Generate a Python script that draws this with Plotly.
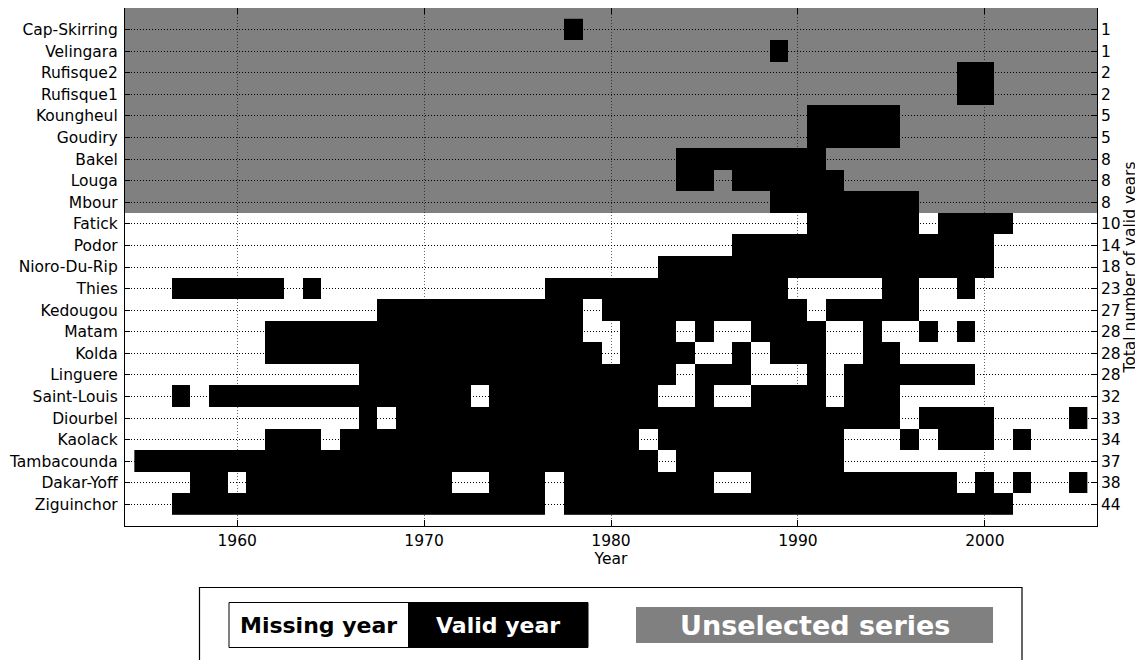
import plotly.graph_objects as go

# Stations, top to bottom as displayed
stations = ["Cap-Skirring", "Velingara", "Rufisque2", "Rufisque1", "Koungheul",
            "Goudiry", "Bakel", "Louga", "Mbour", "Fatick", "Podor", "Nioro-Du-Rip",
            "Thies", "Kedougou", "Matam", "Kolda", "Linguere", "Saint-Louis",
            "Diourbel", "Kaolack", "Tambacounda", "Dakar-Yoff", "Ziguinchor"]

# Number of top stations that are "unselected" (grey background)
n_unselected = 9

# Valid-year runs: [first_year, last_year] (inclusive)
valid_runs = {
    "Cap-Skirring": [[1978, 1978]],
    "Velingara": [[1989, 1989]],
    "Rufisque2": [[1999, 2000]],
    "Rufisque1": [[1999, 2000]],
    "Koungheul": [[1991, 1995]],
    "Goudiry": [[1991, 1995]],
    "Bakel": [[1984, 1991]],
    "Louga": [[1984, 1985], [1987, 1992]],
    "Mbour": [[1989, 1996]],
    "Fatick": [[1991, 1996], [1998, 2001]],
    "Podor": [[1987, 2000]],
    "Nioro-Du-Rip": [[1983, 2000]],
    "Thies": [[1957, 1962], [1964, 1964], [1977, 1989], [1995, 1996], [1999, 1999]],
    "Kedougou": [[1968, 1978], [1980, 1990], [1992, 1996]],
    "Matam": [[1962, 1978], [1981, 1983], [1985, 1985], [1988, 1991], [1994, 1994],
              [1997, 1997], [1999, 1999]],
    "Kolda": [[1962, 1979], [1981, 1984], [1987, 1987], [1989, 1991], [1994, 1995]],
    "Linguere": [[1967, 1983], [1985, 1987], [1991, 1991], [1993, 1999]],
    "Saint-Louis": [[1957, 1957], [1959, 1972], [1974, 1982], [1985, 1985],
                    [1988, 1991], [1993, 1995]],
    "Diourbel": [[1967, 1967], [1969, 1995], [1997, 2000], [2005, 2005]],
    "Kaolack": [[1962, 1964], [1966, 1981], [1983, 1992], [1996, 1996],
                [1998, 2000], [2002, 2002]],
    "Tambacounda": [[1955, 1982], [1984, 1992]],
    "Dakar-Yoff": [[1958, 1959], [1961, 1971], [1974, 1976], [1978, 1985],
                   [1988, 1998], [2000, 2000], [2002, 2002], [2005, 2005]],
    "Ziguinchor": [[1957, 1976], [1978, 2001]],
}

first_year = 1955
last_year = 2005
x_ticks = [1960, 1970, 1980, 1990, 2000]

# ---------------------------------------------------------------
years = list(range(first_year, last_year + 1))
rows = list(reversed(stations))           # bottom -> top
row_idx = list(range(len(rows)))

z = []
counts = []
for st in rows:
    valid = set()
    for a, b in valid_runs[st]:
        valid.update(range(a, b + 1))
    counts.append(len(valid))
    z.append([1 if y in valid else None for y in years])

FONT = "DejaVu Sans"
TXT = 15.5
DOT = "1px,2px"

fig = go.Figure()

fig.add_trace(go.Heatmap(
    x=years, y=row_idx, z=z,
    colorscale=[[0, "black"], [1, "black"]], zmin=0, zmax=1,
    showscale=False, hoverinfo="skip", zsmooth=False,
))

# invisible trace to activate right axis
fig.add_trace(go.Scatter(x=[years[0]], y=[0], yaxis="y2", mode="markers",
                         marker=dict(opacity=0), hoverinfo="skip", showlegend=False))

# page body adds an 8px offset; size the figure so it fills the window
OFF = 8
WIN_W, WIN_H = 1143, 660
W, H = WIN_W - OFF, WIN_H - OFF
# plot-area edges in window pixels
PL, PR, PT, PB = 125, 1097, 8, 526
L, R, T, B = PL - OFF, W - (PR - OFF), max(PT - OFF, 0), H - (PB - OFF)
pw, ph = W - L - R, H - T - B


def px(xw):
    return (xw - OFF - L) / pw


def py(yw):
    return (H - B - (yw - OFF)) / ph


shapes = [
    # grey band for unselected series
    dict(type="rect", xref="paper", yref="y", x0=0, x1=1,
         y0=len(rows) - n_unselected - 0.5, y1=len(rows),
         fillcolor="#808080", line=dict(width=0), layer="below"),
    # legend frame
    dict(type="rect", xref="paper", yref="paper", x0=px(199.5), x1=px(1022),
         y0=py(668), y1=py(587.5), fillcolor="white",
         line=dict(color="black", width=1.2)),
    dict(type="rect", xref="paper", yref="paper", x0=px(229), x1=px(408.5),
         y0=py(647.5), y1=py(602.5), fillcolor="white",
         line=dict(color="black", width=1)),
    dict(type="rect", xref="paper", yref="paper", x0=px(408.5), x1=px(588),
         y0=py(647.5), y1=py(602.5), fillcolor="black",
         line=dict(color="black", width=1)),
    dict(type="rect", xref="paper", yref="paper", x0=px(636), x1=px(993),
         y0=py(643), y1=py(607), fillcolor="#808080",
         line=dict(width=0)),
]

annotations = [
    dict(xref="paper", yref="paper", x=px(318.5), y=py(625), text="<b>Missing year</b>",
         showarrow=False, font=dict(family=FONT, size=22, color="black"),
         xanchor="center", yanchor="middle"),
    dict(xref="paper", yref="paper", x=px(498), y=py(625), text="<b>Valid year</b>",
         showarrow=False, font=dict(family=FONT, size=22, color="white"),
         xanchor="center", yanchor="middle"),
    dict(xref="paper", yref="paper", x=px(814.5), y=py(625), text="<b>Unselected series</b>",
         showarrow=False, font=dict(family=FONT, size=27, color="white"),
         xanchor="center", yanchor="middle"),
]

fig.update_layout(
    width=W, height=H,
    margin=dict(l=L, r=R, t=T, b=B, pad=0, autoexpand=False),
    paper_bgcolor="white", plot_bgcolor="white",
    font=dict(family=FONT, size=TXT, color="black"),
    showlegend=False,
    shapes=shapes, annotations=annotations,
    xaxis=dict(
        range=[1954, 2006], tickvals=x_ticks, ticks="inside", ticklen=6,
        tickcolor="black", showline=True, linecolor="black", linewidth=1.3,
        mirror="ticks", showgrid=True, gridcolor="rgba(0,0,0,0.6)",
        griddash=DOT, gridwidth=1, zeroline=False, automargin=False,
        title=dict(text="Year", standoff=3, font=dict(size=TXT)),
        tickfont=dict(size=TXT),
    ),
    yaxis=dict(
        range=[-1, len(rows)], tickvals=row_idx, ticktext=rows,
        ticks="inside", ticklen=5, tickcolor="black",
        showline=True, linecolor="black", linewidth=1.3, mirror=True,
        showgrid=True, gridcolor="black", griddash=DOT, gridwidth=1,
        zeroline=False, tickfont=dict(size=TXT), ticklabelstandoff=3,
        automargin=False,
    ),
    yaxis2=dict(
        overlaying="y", side="right", anchor="x",
        range=[-1, len(rows)], tickvals=row_idx, ticktext=[str(c) for c in counts],
        ticks="inside", ticklen=5, tickcolor="black", showgrid=False,
        zeroline=False, showline=False, tickfont=dict(size=TXT),
        ticklabelstandoff=3, automargin=False,
        title=dict(text="Total number of valid years", standoff=4,
                   font=dict(size=TXT)),
    ),
)

fig.write_html("out.html")
